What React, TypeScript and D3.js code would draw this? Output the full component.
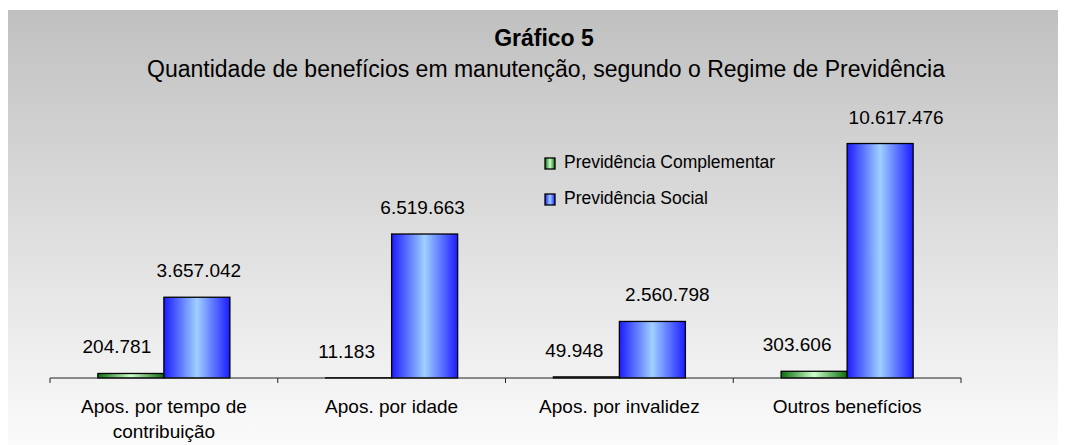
import React from 'react';
import * as d3 from 'd3';

const categories = [
  ['Apos. por tempo de', 'contribuição'],
  ['Apos. por idade'],
  ['Apos. por invalidez'],
  ['Outros benefícios'],
];
const seriesNames = ['Previdência Complementar', 'Previdência Social'];
const complementar = [204781, 11183, 49948, 303606];
const social = [3657042, 6519663, 2560798, 10617476];

const fmt = (v: number) => d3.format(',')(v).replace(/,/g, '.');

// small nudges of the value labels, as they sit in the original
const labelShift = [
  [-14, -12, -12, -17],
  [2, -2, 15, 16],
];

const App = () => {
  const width = 1058;
  const height = 437;
  const left = 42;
  const right = 953;
  const baseY = 370;
  const topY = 105;
  const font = 'Liberation Sans, Arial, sans-serif';

  const keys = categories.map((_, i) => String(i));
  const x0 = d3.scaleBand().domain(keys).range([left, right]).padding(0);
  const x1 = d3.scaleBand().domain(seriesNames).range([0, x0.bandwidth()])
    .paddingInner(0).paddingOuter(0.725);
  const y = d3.scaleLinear().domain([0, 12000000]).range([baseY, topY]);

  const values = [complementar, social];
  const fills = ['url(#gGreen)', 'url(#gBlue)'];

  return (
    <svg width={width} height={height} style={{ display: 'block' }}>
      <defs>
        <linearGradient id="bg" x1="0" y1="0" x2="0" y2="1">
          <stop offset="0%" stopColor="#c0c0c0" />
          <stop offset="100%" stopColor="#fbfbfb" />
        </linearGradient>
        <linearGradient id="gBlue" x1="0" y1="0" x2="1" y2="0">
          <stop offset="0%" stopColor="#1c1cff" />
          <stop offset="50%" stopColor="#9fd0ff" />
          <stop offset="100%" stopColor="#1c1cff" />
        </linearGradient>
        <linearGradient id="gGreen" x1="0" y1="0" x2="1" y2="0">
          <stop offset="0%" stopColor="#0a6e0a" />
          <stop offset="50%" stopColor="#ccffcc" />
          <stop offset="100%" stopColor="#0a6e0a" />
        </linearGradient>
      </defs>
      <rect x={0} y={2} width={width} height={height} fill="url(#bg)" />

      <text x={536} y={38} textAnchor="middle" fontFamily={font} fontSize={23} fontWeight="bold" fill="#000">
        Gráfico 5
      </text>
      <text x={538} y={68.5} textAnchor="middle" fontFamily={font} fontSize={23} fill="#000">
        Quantidade de benefícios em manutenção, segundo o Regime de Previdência
      </text>

      {values.map((vals, s) =>
        vals.map((v, i) => {
          const bx = (x0(keys[i]) as number) + (x1(seriesNames[s]) as number);
          const bw = x1.bandwidth();
          return (
            <g key={`${s}-${i}`}>
              <rect x={bx} y={y(v)} width={bw} height={baseY - y(v)}
                fill={fills[s]} stroke="#000" strokeWidth={1.3} />
              <text x={bx + bw / 2 + labelShift[s][i]} y={y(v) - 20} textAnchor="middle"
                fontFamily={font} fontSize={19} fill="#000">
                {fmt(v)}
              </text>
            </g>
          );
        })
      )}

      <line x1={left} x2={right} y1={baseY} y2={baseY} stroke="#222" strokeWidth={1} />
      {[...keys.map(k => x0(k) as number), right].map((tx, i) => (
        <line key={i} x1={tx} x2={tx} y1={baseY} y2={baseY + 5} stroke="#222" strokeWidth={1} />
      ))}

      {categories.map((lines, i) => (
        <text key={i} textAnchor="middle" fontFamily={font} fontSize={19} fill="#000">
          {lines.map((ln, j) => (
            <tspan key={j} x={(x0(keys[i]) as number) + x0.bandwidth() / 2} y={405 + j * 25}>{ln}</tspan>
          ))}
        </text>
      ))}

      {seriesNames.map((n, s) => (
        <g key={n} transform={`translate(537, ${150 + s * 36})`}>
          <rect x={0} y={0} width={10} height={11} fill={fills[s]} stroke="#000" strokeWidth={1.3} />
          <text x={19} y={9.5} fontFamily={font} fontSize={17.5} fill="#000">{n}</text>
        </g>
      ))}
    </svg>
  );
};

export default App;
